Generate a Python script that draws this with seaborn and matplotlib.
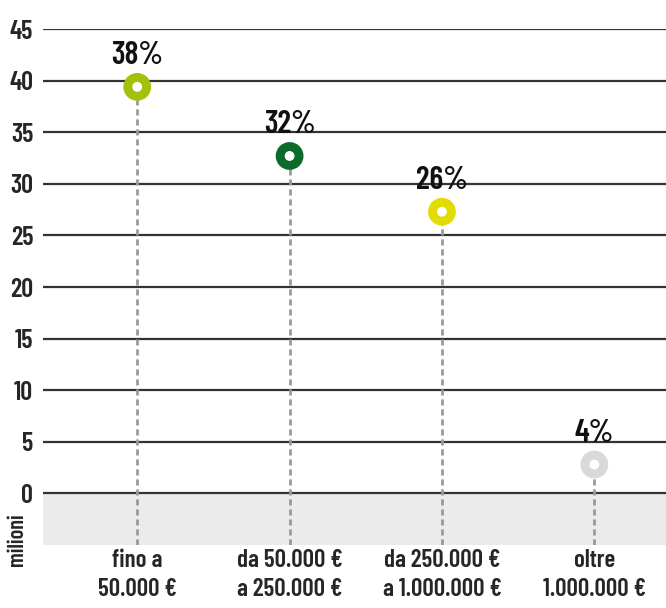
import numpy as np
import pandas as pd
import matplotlib
matplotlib.use("Agg")
import matplotlib.pyplot as plt
import seaborn as sns

# dati
categorie = ["fino a\n50.000 €", "da 50.000 €\na 250.000 €", "da 250.000 €\na 1.000.000 €", "oltre\n1.000.000 €"]
valori = [39.4, 32.7, 27.3, 2.8]
percentuali = ["38%", "32%", "26%", "4%"]
colori = ["#a5c00c", "#0b6b2b", "#e3dc00", "#d9d9d9"]
yticks = [0, 5, 10, 15, 20, 25, 30, 35, 40, 45]

sns.set_style("white")
plt.rcParams["font.family"] = ["Barlow Condensed", "Roboto Condensed", "Liberation Sans Narrow", "DejaVu Sans"]

df = pd.DataFrame({"pos": np.arange(len(categorie)), "valore": valori, "cat": categorie})

fig = plt.figure(figsize=(6.66, 6.08), dpi=100)
ax = fig.add_axes([0.0646, 0.1036, 0.9354, 0.8486])

# area grigia sotto lo zero
ax.axhspan(-5, 0, color="#ebebeb", zorder=0, lw=0)
for y in yticks:
    ax.axhline(y, color="#333333", lw=1.6, zorder=1)

# linee tratteggiate
for i, v in enumerate(valori):
    ax.plot([i, i], [-5, v], color="#9a9a9a", lw=2, ls=(0, (2.2, 1.4)), zorder=2)

sns.scatterplot(data=df, x="pos", y="valore", hue="cat", palette=colori,
                s=185, linewidth=6.4, legend=False, ax=ax, zorder=3)
coll = ax.collections[-1]
coll.set_edgecolors(colori)
coll.set_facecolors("white")

for i, (v, p) in enumerate(zip(valori, percentuali)):
    ax.annotate(p, (i, v), xytext=(0, 12), textcoords="offset points",
                ha="center", va="bottom", fontsize=23, fontweight="semibold", color="#111111")

ax.set_xlim(-0.618, 3.47)
ax.set_ylim(-5, 45)
ax.set_yticks(yticks)
ax.set_yticklabels([str(y) for y in yticks], fontsize=19, fontweight="semibold")
ax.set_xticks(range(len(categorie)))
ax.set_xticklabels(categorie, fontsize=18, fontweight="semibold", linespacing=1.35)
ax.tick_params(axis="both", length=0)
ax.tick_params(axis="y", pad=7)
ax.tick_params(axis="x", pad=3)
ax.set_xlabel("")
ax.set_ylabel("")
for s in ax.spines.values():
    s.set_visible(False)

fig.text(0.0255, 0.112, "milioni", rotation=90, ha="center", va="center",
         fontsize=16, fontweight="semibold")

fig.savefig("out.png", dpi=100)
